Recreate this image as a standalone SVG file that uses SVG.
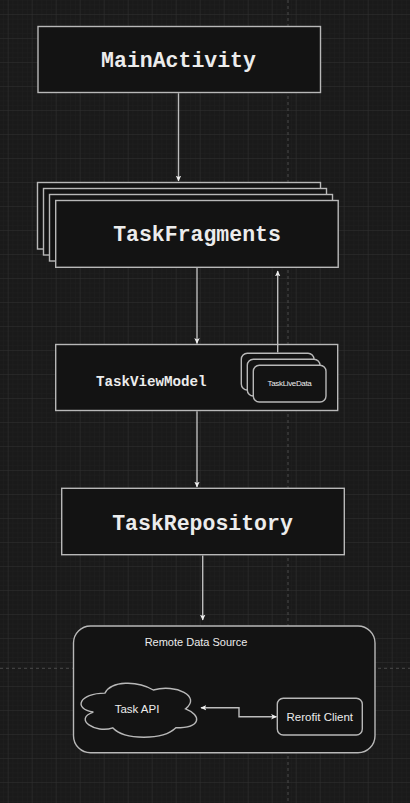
<svg xmlns="http://www.w3.org/2000/svg" width="410" height="803" viewBox="0 0 410 803">
  <defs>
    <pattern id="minor" x="7.7" y="14" width="4.8" height="4.8" patternUnits="userSpaceOnUse">
      <path d="M0 0H4.8M0 0V4.8" fill="none" stroke="#222222" stroke-width="0.8"/>
    </pattern>
    <pattern id="major" x="7.7" y="14" width="24" height="24" patternUnits="userSpaceOnUse">
      <path d="M0 0H24M0 0V24" fill="none" stroke="#303030" stroke-width="1"/>
    </pattern>
    <marker id="ah" viewBox="0 0 10 10" refX="9" refY="5" markerWidth="6" markerHeight="6" orient="auto-start-reverse" markerUnits="userSpaceOnUse">
      <path d="M0 0.5L10 5L0 9.5L2.5 5Z" fill="#f0f0f0"/>
    </marker>
    <style>
      .box { fill: #131313; stroke: #b8b8b8; stroke-width: 1.4; }
      .mono { font-family: "Liberation Mono", "Courier New", monospace; font-weight: bold; fill: #ececec; text-anchor: middle; }
      .sans { font-family: "Liberation Sans", Arial, sans-serif; fill: #ececec; text-anchor: middle; }
      .conn { fill: none; stroke: #bdbdbd; stroke-width: 1.4; }
      .guide { fill: none; stroke: #4a4a4a; stroke-width: 1; stroke-dasharray: 3 3; }
    </style>
  </defs>
  <rect width="410" height="803" fill="#1a1a1a"/>
  <rect width="410" height="803" fill="url(#minor)"/>
  <rect width="410" height="803" fill="url(#major)"/>
  <path class="guide" d="M288 0V803M0 668.3H410"/>

  <g id="main-activity">
    <rect class="box" x="38" y="26.5" width="282.5" height="66"/>
    <text class="mono" x="178.5" y="67" font-size="21.5">MainActivity</text>
  </g>

  <g id="task-fragments">
    <rect class="box" x="37.5" y="182.5" width="283" height="66.5"/>
    <rect class="box" x="43.5" y="188.5" width="283" height="66.5"/>
    <rect class="box" x="49.5" y="194.5" width="283" height="66.5"/>
    <rect class="box" x="55.7" y="200.5" width="282.5" height="66.8"/>
    <text class="mono" x="197" y="240.5" font-size="21.5">TaskFragments</text>
  </g>

  <g id="task-view-model">
    <rect class="box" x="55.7" y="344.5" width="282" height="66"/>
    <text class="mono" x="151.3" y="385.5" font-size="14.2">TaskViewModel</text>
  </g>

  <g id="task-live-data">
    <rect class="box" x="241.3" y="353.3" width="72.7" height="36.7" rx="6"/>
    <rect class="box" x="247.3" y="359.3" width="72.7" height="36.7" rx="6"/>
    <rect class="box" x="253.3" y="365.3" width="72.7" height="36.7" rx="6"/>
    <text class="sans" x="289.5" y="386" font-size="8" letter-spacing="-0.35">TaskLiveData</text>
  </g>

  <g id="task-repository">
    <rect class="box" x="61.7" y="488.3" width="282.6" height="66.4"/>
    <text class="mono" x="202.5" y="529.5" font-size="21.5">TaskRepository</text>
  </g>

  <g id="remote-data-source">
    <rect class="box" x="73.5" y="626" width="301.5" height="126.7" rx="17"/>
    <text class="sans" x="196" y="645.5" font-size="11">Remote Data Source</text>
  </g>

  <g id="task-api">
    <path class="box" transform="translate(72.7 677.4) scale(129 63)" vector-effect="non-scaling-stroke" d="M0.25 0.25C0.05 0.25 0 0.5 0.16 0.55C0 0.66 0.18 0.9 0.31 0.8C0.4 1 0.7 1 0.8 0.8C1 0.8 1 0.6 0.875 0.5C1 0.3 0.8 0.1 0.625 0.2C0.5 0.05 0.3 0.05 0.25 0.25Z"/>
    <text class="sans" x="137" y="712.5" font-size="11.5">Task API</text>
  </g>

  <g id="retrofit-client">
    <rect class="box" x="277.3" y="698.3" width="85" height="36.7" rx="6"/>
    <text class="sans" x="319.8" y="720.8" font-size="11.5">Rerofit Client</text>
  </g>

  <g id="connectors">
    <path class="conn" d="M178.5 93.2V181" marker-end="url(#ah)"/>
    <path class="conn" d="M197 268V343.5" marker-end="url(#ah)"/>
    <path class="conn" d="M277.7 352.6V271" marker-end="url(#ah)"/>
    <path class="conn" d="M197 411.2V487" marker-end="url(#ah)"/>
    <path class="conn" d="M202.7 555.4V620" marker-end="url(#ah)"/>
    <path class="conn" d="M201 707.7H239V716.7H276.5" marker-start="url(#ah)" marker-end="url(#ah)"/>
  </g>
</svg>
